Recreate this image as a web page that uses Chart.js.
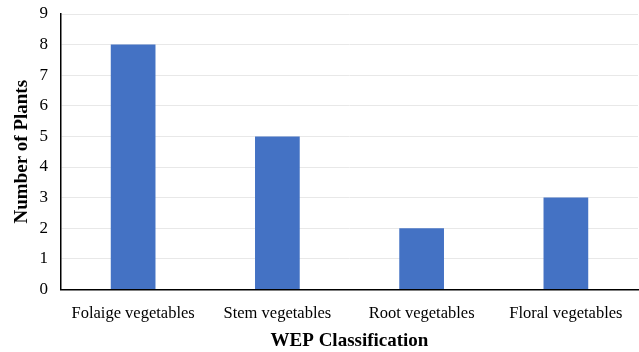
<!DOCTYPE html>
<html>
<head>
<meta charset="utf-8">
<script src="https://cdn.jsdelivr.net/npm/chart.js@4"></script>
<style>
  html, body { margin: 0; padding: 0; background: #fff; }
  #wrap { width: 639px; height: 352px; }
</style>
</head>
<body>
<div id="wrap"><canvas id="grafico"></canvas></div>
<script>
// dados do gráfico
const categorias = ["Folaige vegetables", "Stem vegetables", "Root vegetables", "Floral vegetables"];
const numeroPlantas = [8, 5, 2, 3];
const ticksY = [0, 1, 2, 3, 4, 5, 6, 7, 8, 9];

const fonte = "'Liberation Serif', 'Times New Roman', serif";

var ctx = document.getElementById("grafico").getContext("2d");
var myChart = new Chart(ctx, {
  type: "bar",
  data: {
    labels: categorias,
    datasets: [
      {
        data: numeroPlantas,
        backgroundColor: "#4472C4",
        categoryPercentage: 1,
        barPercentage: 0.31,
      },
    ],
  },
  options: {
    responsive: true,
    maintainAspectRatio: false,
    animation: false,
    layout: { padding: { left: 0, right: 1, top: 14, bottom: 0 } },
    plugins: { legend: { display: false }, tooltip: { enabled: false } },
    scales: {
      x: {
        grid: { display: false },
        border: { color: "#000", width: 1.5 },
        ticks: { color: "#000", font: { family: fonte, size: 16.5 }, padding: 6, maxRotation: 0 },
        title: { display: true, text: "WEP Classification", color: "#000", font: { family: fonte, size: 19, weight: "bold" }, padding: { top: 0, bottom: 0 } },
      },
      y: {
        min: 0,
        max: 9,
        afterBuildTicks: (eixo) => { eixo.ticks = ticksY.map((v) => ({ value: v })); },
        afterFit: (eixo) => { eixo.width = 61; eixo.paddingTop = 0; },
        grid: { color: "#e8e8e8", drawTicks: false },
        border: { color: "#000", width: 1.5 },
        ticks: { color: "#000", font: { family: fonte, size: 17 }, padding: 13 },
        title: { display: true, text: "Number of Plants", color: "#000", font: { family: fonte, size: 19, weight: "bold" }, padding: { top: 11, bottom: 0 } },
      },
    },
  },
});
</script>
</body>
</html>
